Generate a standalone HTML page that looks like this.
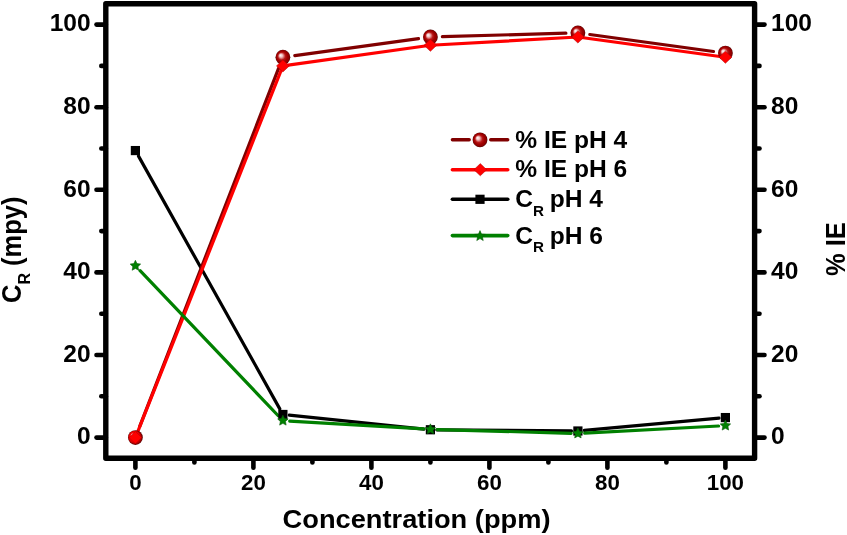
<!DOCTYPE html>
<html><head><meta charset="utf-8"><style>
html,body{margin:0;padding:0;background:#fff;}
svg{display:block;}
text{font-family:"Liberation Sans",Arial,sans-serif;font-weight:bold;fill:#000;}
.yl{font-size:24.5px;}
.xl{font-size:22.3px;}
.lg{font-size:24.2px;}
.sb{font-size:15px;}
.tt{font-size:26px;}
.tt2{font-size:25.5px;}
.sb2{font-size:16px;}
</style></head><body>
<svg width="847" height="535" viewBox="0 0 847 535">
<defs>
<radialGradient id="sph" cx="0.5" cy="0.5" r="0.5" fx="0.33" fy="0.36">
<stop offset="0" stop-color="#ffffff"/>
<stop offset="0.22" stop-color="#f2c0c0"/>
<stop offset="0.5" stop-color="#b81818"/>
<stop offset="0.7" stop-color="#a00000"/>
<stop offset="0.9" stop-color="#8a0000"/>
<stop offset="1" stop-color="#4a0000"/>
</radialGradient>
<radialGradient id="sph0" cx="0.5" cy="0.5" r="0.5" fx="0.26" fy="0.3">
<stop offset="0" stop-color="#ffe0e0"/>
<stop offset="0.2" stop-color="#ff6a6a"/>
<stop offset="0.42" stop-color="#ff0808"/>
<stop offset="0.72" stop-color="#e80000"/>
<stop offset="0.86" stop-color="#a80000"/>
<stop offset="1" stop-color="#500000"/>
</radialGradient>
</defs>
<rect width="847" height="535" fill="#fff"/>
<g stroke="#000" stroke-width="4.6" stroke-linecap="round">
<line x1="105.8" y1="437.60" x2="96.5" y2="437.60"/>
<line x1="754.6" y1="437.60" x2="764.5" y2="437.60"/>
<line x1="135.40" y1="458.2" x2="135.40" y2="467.8"/>
<line x1="105.8" y1="396.30" x2="101.3" y2="396.30"/>
<line x1="754.6" y1="396.30" x2="759.5" y2="396.30"/>
<line x1="194.40" y1="458.2" x2="194.40" y2="462.4"/>
<line x1="105.8" y1="355.00" x2="96.5" y2="355.00"/>
<line x1="754.6" y1="355.00" x2="764.5" y2="355.00"/>
<line x1="253.40" y1="458.2" x2="253.40" y2="467.8"/>
<line x1="105.8" y1="313.70" x2="101.3" y2="313.70"/>
<line x1="754.6" y1="313.70" x2="759.5" y2="313.70"/>
<line x1="312.40" y1="458.2" x2="312.40" y2="462.4"/>
<line x1="105.8" y1="272.40" x2="96.5" y2="272.40"/>
<line x1="754.6" y1="272.40" x2="764.5" y2="272.40"/>
<line x1="371.40" y1="458.2" x2="371.40" y2="467.8"/>
<line x1="105.8" y1="231.10" x2="101.3" y2="231.10"/>
<line x1="754.6" y1="231.10" x2="759.5" y2="231.10"/>
<line x1="430.40" y1="458.2" x2="430.40" y2="462.4"/>
<line x1="105.8" y1="189.80" x2="96.5" y2="189.80"/>
<line x1="754.6" y1="189.80" x2="764.5" y2="189.80"/>
<line x1="489.40" y1="458.2" x2="489.40" y2="467.8"/>
<line x1="105.8" y1="148.50" x2="101.3" y2="148.50"/>
<line x1="754.6" y1="148.50" x2="759.5" y2="148.50"/>
<line x1="548.40" y1="458.2" x2="548.40" y2="462.4"/>
<line x1="105.8" y1="107.20" x2="96.5" y2="107.20"/>
<line x1="754.6" y1="107.20" x2="764.5" y2="107.20"/>
<line x1="607.40" y1="458.2" x2="607.40" y2="467.8"/>
<line x1="105.8" y1="65.90" x2="101.3" y2="65.90"/>
<line x1="754.6" y1="65.90" x2="759.5" y2="65.90"/>
<line x1="666.40" y1="458.2" x2="666.40" y2="462.4"/>
<line x1="105.8" y1="24.60" x2="96.5" y2="24.60"/>
<line x1="754.6" y1="24.60" x2="764.5" y2="24.60"/>
<line x1="725.40" y1="458.2" x2="725.40" y2="467.8"/>
</g>
<rect x="105.8" y="3.7" width="648.8" height="454.5" fill="none" stroke="#000" stroke-width="5.4" stroke-linejoin="round"/>
<line x1="138.52" y1="156.15" x2="279.78" y2="408.89" stroke="#000000" stroke-width="3.2" stroke-linecap="round"/>
<line x1="289.27" y1="415.13" x2="424.03" y2="429.09" stroke="#000000" stroke-width="3.2" stroke-linecap="round"/>
<line x1="436.80" y1="429.81" x2="571.50" y2="430.94" stroke="#000000" stroke-width="3.2" stroke-linecap="round"/>
<line x1="584.27" y1="430.41" x2="719.03" y2="418.15" stroke="#000000" stroke-width="3.2" stroke-linecap="round"/>
<line x1="139.74" y1="426.41" x2="278.56" y2="68.42" stroke="#800000" stroke-width="3.2" stroke-linecap="round"/>
<line x1="294.79" y1="55.60" x2="418.51" y2="38.62" stroke="#800000" stroke-width="3.2" stroke-linecap="round"/>
<line x1="442.40" y1="36.65" x2="565.90" y2="33.20" stroke="#800000" stroke-width="3.2" stroke-linecap="round"/>
<line x1="589.79" y1="34.49" x2="713.51" y2="51.47" stroke="#800000" stroke-width="3.2" stroke-linecap="round"/>
<line x1="135.40" y1="437.60" x2="282.90" y2="65.90" stroke="#ff0000" stroke-width="3.2" stroke-linecap="round"/>
<line x1="282.90" y1="65.90" x2="430.40" y2="45.25" stroke="#ff0000" stroke-width="3.2" stroke-linecap="round"/>
<line x1="430.40" y1="45.25" x2="577.90" y2="36.99" stroke="#ff0000" stroke-width="3.2" stroke-linecap="round"/>
<line x1="577.90" y1="36.99" x2="725.40" y2="57.23" stroke="#ff0000" stroke-width="3.2" stroke-linecap="round"/>
<line x1="140.09" y1="270.72" x2="278.21" y2="415.74" stroke="#008000" stroke-width="3.2" stroke-linecap="round"/>
<line x1="289.69" y1="421.07" x2="423.61" y2="428.94" stroke="#008000" stroke-width="3.2" stroke-linecap="round"/>
<line x1="437.20" y1="429.53" x2="571.10" y2="433.28" stroke="#008000" stroke-width="3.2" stroke-linecap="round"/>
<line x1="584.69" y1="433.11" x2="718.61" y2="425.98" stroke="#008000" stroke-width="3.2" stroke-linecap="round"/>
<rect x="130.80" y="145.97" width="9.2" height="9.2" fill="#000"/>
<rect x="278.30" y="409.87" width="9.2" height="9.2" fill="#000"/>
<rect x="425.80" y="425.15" width="9.2" height="9.2" fill="#000"/>
<rect x="573.30" y="426.39" width="9.2" height="9.2" fill="#000"/>
<rect x="720.80" y="412.97" width="9.2" height="9.2" fill="#000"/>
<g fill="#008000" stroke="#0a5a0a" stroke-width="0.6"><polygon points="135.40,260.29 136.99,263.61 140.63,264.09 137.97,266.63 138.63,270.24 135.40,268.49 132.17,270.24 132.83,266.63 130.17,264.09 133.81,263.61"/></g>
<g fill="#008000" stroke="#0a5a0a" stroke-width="0.6"><polygon points="282.90,415.17 284.49,418.48 288.13,418.97 285.47,421.50 286.13,425.12 282.90,423.37 279.67,425.12 280.33,421.50 277.67,418.97 281.31,418.48"/></g>
<g fill="#008000" stroke="#0a5a0a" stroke-width="0.6"><polygon points="430.40,423.84 431.99,427.16 435.63,427.64 432.97,430.17 433.63,433.79 430.40,432.04 427.17,433.79 427.83,430.17 425.17,427.64 428.81,427.16"/></g>
<g fill="#008000" stroke="#0a5a0a" stroke-width="0.6"><polygon points="577.90,427.97 579.49,431.29 583.13,431.77 580.47,434.30 581.13,437.92 577.90,436.17 574.67,437.92 575.33,434.30 572.67,431.77 576.31,431.29"/></g>
<g fill="#008000" stroke="#0a5a0a" stroke-width="0.6"><polygon points="725.40,420.12 726.99,423.44 730.63,423.92 727.97,426.46 728.63,430.07 725.40,428.32 722.17,430.07 722.83,426.46 720.17,423.92 723.81,423.44"/></g>
<circle cx="135.40" cy="437.60" r="7.4" fill="url(#sph0)"/>
<circle cx="282.90" cy="57.23" r="7.4" fill="url(#sph)"/>
<circle cx="430.40" cy="36.99" r="7.4" fill="url(#sph)"/>
<circle cx="577.90" cy="32.86" r="7.4" fill="url(#sph)"/>
<circle cx="725.40" cy="53.10" r="7.4" fill="url(#sph)"/>
<polygon points="135.40,431.50 141.80,437.60 135.40,443.70 129.00,437.60" fill="#ff0000" stroke="#b00000" stroke-width="0.5"/>
<polygon points="282.90,59.80 289.30,65.90 282.90,72.00 276.50,65.90" fill="#ff0000" stroke="#b00000" stroke-width="0.5"/>
<polygon points="430.40,39.15 436.80,45.25 430.40,51.35 424.00,45.25" fill="#ff0000" stroke="#b00000" stroke-width="0.5"/>
<polygon points="577.90,30.89 584.30,36.99 577.90,43.09 571.50,36.99" fill="#ff0000" stroke="#b00000" stroke-width="0.5"/>
<polygon points="725.40,51.13 731.80,57.23 725.40,63.33 719.00,57.23" fill="#ff0000" stroke="#b00000" stroke-width="0.5"/>
<line x1="452.4" y1="139.8" x2="469.2" y2="139.8" stroke="#800000" stroke-width="3.4" stroke-linecap="round"/>
<line x1="490.7" y1="139.8" x2="507.7" y2="139.8" stroke="#800000" stroke-width="3.4" stroke-linecap="round"/>
<circle cx="480.00" cy="139.80" r="7.4" fill="url(#sph)"/>
<line x1="452.4" y1="169.7" x2="507.7" y2="169.7" stroke="#ff0000" stroke-width="3.6" stroke-linecap="round"/>
<polygon points="480.30,163.60 486.70,169.70 480.30,175.80 473.90,169.70" fill="#ff0000" stroke="#b00000" stroke-width="0.5"/>
<line x1="452.4" y1="199.3" x2="507.7" y2="199.3" stroke="#000" stroke-width="3.6" stroke-linecap="round"/>
<rect x="475.40" y="194.70" width="9.2" height="9.2" fill="#000"/>
<line x1="452.4" y1="235.6" x2="507.7" y2="235.6" stroke="#008000" stroke-width="3.6" stroke-linecap="round"/>
<g fill="#008000" stroke="#0a5a0a" stroke-width="0.6"><polygon points="480.00,230.60 481.47,234.08 485.23,234.40 482.38,236.87 483.23,240.55 480.00,238.60 476.77,240.55 477.62,236.87 474.77,234.40 478.53,234.08"/></g>
<text transform="translate(515.3,148) scale(1.015,1)" class="lg">% IE pH 4</text>
<text transform="translate(515.3,177.2) scale(1.015,1)" class="lg">% IE pH 6</text>
<text transform="translate(515.3,207) scale(1.015,1)" class="lg">C<tspan class="sb" dx="0" dy="8.6">R</tspan><tspan dx="-1.1" dy="-8.6"> pH 4</tspan></text>
<text transform="translate(515.3,243.5) scale(1.015,1)" class="lg">C<tspan class="sb" dx="0" dy="8.6">R</tspan><tspan dx="-1.1" dy="-8.6"> pH 6</tspan></text>
<text x="90.6" y="444.30" text-anchor="end" class="yl">0</text>
<text x="771" y="444.30" class="yl">0</text>
<text x="135.40" y="490.3" text-anchor="middle" class="xl">0</text>
<text x="90.6" y="361.70" text-anchor="end" class="yl">20</text>
<text x="771" y="361.70" class="yl">20</text>
<text x="253.40" y="490.3" text-anchor="middle" class="xl">20</text>
<text x="90.6" y="279.10" text-anchor="end" class="yl">40</text>
<text x="771" y="279.10" class="yl">40</text>
<text x="371.40" y="490.3" text-anchor="middle" class="xl">40</text>
<text x="90.6" y="196.50" text-anchor="end" class="yl">60</text>
<text x="771" y="196.50" class="yl">60</text>
<text x="489.40" y="490.3" text-anchor="middle" class="xl">60</text>
<text x="90.6" y="113.90" text-anchor="end" class="yl">80</text>
<text x="771" y="113.90" class="yl">80</text>
<text x="607.40" y="490.3" text-anchor="middle" class="xl">80</text>
<text x="90.6" y="31.30" text-anchor="end" class="yl">100</text>
<text x="771" y="31.30" class="yl">100</text>
<text x="725.40" y="490.3" text-anchor="middle" class="xl">100</text>
<text transform="translate(282.6,528) scale(1.048,1)" class="tt">Concentration (ppm)</text>
<text transform="translate(21,303) scale(1.05,1) rotate(-90)" class="tt2">C<tspan class="sb2" dy="9">R</tspan><tspan dy="-9"> (mpy)</tspan></text>
<text transform="translate(844.6,276) scale(1.06,1) rotate(-90)" class="tt2">% IE</text>
</svg>
</body></html>
